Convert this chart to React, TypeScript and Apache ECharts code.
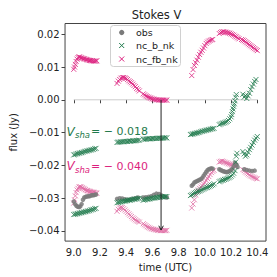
import React, { useEffect, useRef } from "react";
import * as echarts from "echarts";

// ---------- data ----------
const xTicks = [9.0, 9.2, 9.4, 9.6, 9.8, 10.0, 10.2, 10.4];
const yTicks = [-0.04, -0.03, -0.02, -0.01, 0.0, 0.01, 0.02];

const obsTime = [
  9.0, 9.01, 9.02, 9.03, 9.04, 9.05, 9.06, 9.07, 9.08, 9.09, 9.1, 9.11, 9.12, 9.13, 9.14, 9.15, 9.16, 9.17,
  9.33, 9.35, 9.37, 9.39, 9.41, 9.43, 9.45, 9.47, 9.49, 9.53, 9.55, 9.57, 9.59, 9.61, 9.63, 9.65, 9.67, 9.69, 9.71,
  9.9, 9.91, 9.92, 9.93, 9.94, 9.95, 9.96, 9.97, 9.98, 9.99, 10.0, 10.01, 10.02, 10.03, 10.04, 10.05, 10.06,
  10.11, 10.12, 10.13, 10.14, 10.15, 10.16, 10.17, 10.18, 10.19, 10.2, 10.21, 10.22, 10.23, 10.24, 10.25,
  10.3, 10.32, 10.34, 10.36, 10.38,
];
const obsFlux = [
  -0.031, -0.0318, -0.0323, -0.0326, -0.0327, -0.0325, -0.0318, -0.0305, -0.0298, -0.0296, -0.0295, -0.0294, -0.0294, -0.0292, -0.0291, -0.0291, -0.029, -0.0289,
  -0.0302, -0.03, -0.0301, -0.0303, -0.0305, -0.0304, -0.0302, -0.03, -0.0298, -0.0298, -0.0297, -0.0296, -0.0294, -0.029, -0.0286, -0.0287, -0.0292, -0.0296, -0.0298,
  -0.0262, -0.0258, -0.0252, -0.025, -0.0248, -0.0246, -0.0244, -0.0242, -0.0238, -0.0232, -0.0226, -0.022, -0.0215, -0.0212, -0.021, -0.0209, -0.021,
  -0.0212, -0.0214, -0.0216, -0.0218, -0.0219, -0.022, -0.022, -0.0219, -0.0217, -0.0214, -0.021, -0.0203, -0.0192, -0.0198, -0.0205,
  -0.0212, -0.0214, -0.0216, -0.0217, -0.0216,
];

// nc_b_nk (upper branch)
const ncbUpperTime = [
  9.0, 9.01, 9.02, 9.03, 9.04, 9.05, 9.06, 9.07, 9.08, 9.09, 9.1, 9.11, 9.12, 9.13, 9.14, 9.15, 9.16, 9.17,
  9.33, 9.34, 9.35, 9.36, 9.37, 9.38, 9.39, 9.4, 9.41, 9.42, 9.43, 9.44, 9.45, 9.46, 9.47, 9.48, 9.49, 9.5,
  9.53, 9.54, 9.55, 9.56, 9.57, 9.58, 9.59, 9.6, 9.61, 9.62, 9.63, 9.64, 9.65, 9.66, 9.67, 9.68, 9.69, 9.7, 9.71,
  9.89, 9.9, 9.91, 9.92, 9.93, 9.94, 9.95, 9.96, 9.97, 9.98, 9.99, 10.0, 10.01, 10.02, 10.03, 10.04, 10.05, 10.06, 10.07,
  10.11, 10.12, 10.13, 10.14, 10.15, 10.16, 10.17, 10.18, 10.19, 10.2, 10.205, 10.21, 10.215, 10.22, 10.225, 10.23, 10.235, 10.24,
  10.29, 10.3, 10.31, 10.32, 10.33, 10.34, 10.35, 10.36, 10.37, 10.38, 10.39,
];
const ncbUpperFlux = [
  -0.0168, -0.0167, -0.0165, -0.0164, -0.0163, -0.0162, -0.0161, -0.016, -0.0158, -0.0157, -0.0156, -0.0155, -0.0154, -0.0153, -0.0152, -0.0151, -0.0149, -0.0148,
  -0.013, -0.0129, -0.0129, -0.0128, -0.0128, -0.0128, -0.0127, -0.0127, -0.0127, -0.0126, -0.0126, -0.0126, -0.0125, -0.0125, -0.0125, -0.0124, -0.0124, -0.0123,
  -0.012, -0.012, -0.012, -0.0119, -0.0119, -0.0119, -0.0119, -0.0118, -0.0118, -0.0118, -0.0118, -0.0117, -0.0117, -0.0117, -0.0117, -0.0117, -0.0116, -0.0116, -0.0116,
  -0.0106, -0.0105, -0.0104, -0.0103, -0.0102, -0.0101, -0.01, -0.0099, -0.0097, -0.0096, -0.0095, -0.0094, -0.0093, -0.0092, -0.0091, -0.009, -0.0089, -0.0088, -0.0087,
  -0.0076, -0.0074, -0.0072, -0.0071, -0.007, -0.0068, -0.0066, -0.0063, -0.0058, -0.0052, -0.0045, -0.0036, -0.0028, -0.002, -0.0012, -0.0003, 0.0008, 0.0016,
  0.0017, 0.0008, 0.0013, 0.0004, 0.0012, 0.002, 0.0031, 0.004, 0.0048, 0.0056, 0.0062,
];

// nc_b_nk (lower branch)
const ncbLowerTime = [
  9.0, 9.01, 9.02, 9.03, 9.04, 9.05, 9.06, 9.07, 9.08, 9.09, 9.1, 9.11, 9.12, 9.13, 9.14, 9.15, 9.16, 9.17,
  9.33, 9.34, 9.35, 9.36, 9.37, 9.38, 9.39, 9.4, 9.41, 9.42, 9.43, 9.44, 9.45, 9.46, 9.47, 9.48, 9.49, 9.5,
  9.53, 9.54, 9.55, 9.56, 9.57, 9.58, 9.59, 9.6, 9.61, 9.62, 9.63, 9.64, 9.65, 9.66, 9.67, 9.68, 9.69, 9.7, 9.71,
  9.89, 9.9, 9.91, 9.92, 9.93, 9.94, 9.95, 9.96, 9.97, 9.98, 9.99, 10.0, 10.01, 10.02, 10.03, 10.04, 10.05, 10.06, 10.07,
  10.11, 10.12, 10.13, 10.14, 10.15, 10.16, 10.17, 10.18, 10.19, 10.2, 10.21, 10.22, 10.23, 10.235, 10.24, 10.245,
  10.29, 10.3, 10.31, 10.32, 10.33, 10.34, 10.35, 10.36, 10.37, 10.38, 10.39, 10.4,
];
const ncbLowerFlux = [
  -0.035, -0.0349, -0.0348, -0.0347, -0.0346, -0.0345, -0.0344, -0.0343, -0.0342, -0.0341, -0.034, -0.0339, -0.0338, -0.0336, -0.0335, -0.0334, -0.0332, -0.0331,
  -0.0314, -0.0313, -0.0312, -0.0311, -0.031, -0.0309, -0.0309, -0.0308, -0.0307, -0.0306, -0.0306, -0.0305, -0.0304, -0.0303, -0.0303, -0.0302, -0.0301, -0.03,
  -0.0306, -0.0305, -0.0304, -0.0303, -0.0303, -0.0302, -0.0301, -0.03, -0.03, -0.0299, -0.0298, -0.0298, -0.0297, -0.0297, -0.0296, -0.0296, -0.0295, -0.0295, -0.0295,
  -0.0292, -0.029, -0.0288, -0.0285, -0.0283, -0.0281, -0.0279, -0.0278, -0.0276, -0.0274, -0.0272, -0.027, -0.0268, -0.0267, -0.0265, -0.0263, -0.0261, -0.0259, -0.0256,
  -0.025, -0.0248, -0.0246, -0.0245, -0.0243, -0.0242, -0.024, -0.0238, -0.0236, -0.0233, -0.0229, -0.0224, -0.0216, -0.019, -0.0172, -0.0163,
  -0.0158, -0.0165, -0.0172, -0.0168, -0.016, -0.0152, -0.0145, -0.0138, -0.013, -0.0123, -0.0117, -0.0112,
];

// nc_fb_nk (upper branch)
const ncfbUpperTime = [
  9.0, 9.006, 9.012, 9.018, 9.025, 9.032, 9.04, 9.048, 9.056, 9.064, 9.072, 9.08, 9.088, 9.096, 9.104, 9.112, 9.12, 9.128, 9.136, 9.144, 9.152, 9.16, 9.168, 9.176,
  9.33, 9.34, 9.35, 9.36, 9.37, 9.38, 9.39, 9.4, 9.41, 9.42, 9.43, 9.44, 9.45, 9.46, 9.47, 9.48, 9.49, 9.5,
  9.53, 9.54, 9.55, 9.56, 9.57, 9.58, 9.59, 9.6, 9.61, 9.62, 9.63, 9.64, 9.65, 9.66, 9.67, 9.68, 9.69, 9.7, 9.71,
  9.9, 9.91, 9.92, 9.93, 9.94, 9.95, 9.96, 9.97, 9.98, 9.99, 10.0, 10.01, 10.02, 10.03, 10.04, 10.05, 10.06,
  10.11, 10.12, 10.13, 10.14, 10.15, 10.16, 10.17, 10.18, 10.19, 10.2, 10.21, 10.22, 10.23, 10.24, 10.25, 10.26,
  10.28, 10.29, 10.3, 10.31, 10.32, 10.33, 10.34, 10.35, 10.36, 10.37, 10.38, 10.39, 10.4,
];
const ncfbUpperFlux = [
  0.0093, 0.01, 0.0108, 0.0117, 0.0124, 0.0129, 0.0131, 0.013, 0.0128, 0.0127, 0.0126, 0.0125, 0.0124, 0.0123, 0.0122, 0.0121, 0.012, 0.012, 0.0119, 0.0119, 0.0118, 0.0118, 0.0118, 0.0119,
  0.005, 0.0057, 0.0062, 0.0066, 0.0068, 0.0068, 0.0067, 0.0065, 0.0062, 0.0058, 0.0055, 0.0052, 0.0048, 0.0044, 0.004, 0.0035, 0.0031, 0.0027,
  0.0018, 0.0015, 0.0012, 0.001, 0.0008, 0.0006, 0.0005, 0.0003, 0.0002, 0.0001, 0.0, 0.0, -0.0001, -0.0001, -0.0001, -0.0001, -0.0001, -0.0001, -0.0001,
  0.0074, 0.0092, 0.0105, 0.0113, 0.0121, 0.013, 0.0138, 0.0145, 0.0151, 0.0158, 0.0165, 0.0172, 0.0176, 0.0179, 0.0181, 0.0183, 0.0184,
  0.0202, 0.0205, 0.0207, 0.0208, 0.0207, 0.0206, 0.0205, 0.0204, 0.0203, 0.0201, 0.0199, 0.0197, 0.0194, 0.0192, 0.0189, 0.0186,
  0.0184, 0.0182, 0.018, 0.0177, 0.0174, 0.0171, 0.0168, 0.0165, 0.0162, 0.0159, 0.0156, 0.0153, 0.015,
];

// nc_fb_nk (lower branch)
const ncfbLowerTime = [
  9.0, 9.006, 9.012, 9.018, 9.025, 9.032, 9.04, 9.048, 9.056, 9.064, 9.072, 9.08, 9.088, 9.096, 9.104, 9.112, 9.12, 9.128, 9.136, 9.144, 9.152, 9.16, 9.168, 9.176,
  9.33, 9.34, 9.35, 9.36, 9.37, 9.38, 9.39, 9.4, 9.41, 9.42, 9.43, 9.44, 9.45, 9.46, 9.47, 9.48, 9.49, 9.5,
  9.53, 9.54, 9.55, 9.56, 9.57, 9.58, 9.59, 9.6, 9.61, 9.62, 9.63, 9.64, 9.65, 9.66, 9.67, 9.68, 9.69, 9.7, 9.71,
  9.9, 9.91, 9.92, 9.93, 9.94, 9.95, 9.96, 9.97, 9.98, 9.99, 10.0, 10.01, 10.02, 10.03, 10.04, 10.05, 10.06, 10.07,
  10.11, 10.12, 10.13, 10.14, 10.15, 10.16, 10.17, 10.18, 10.19, 10.2, 10.21, 10.22, 10.23, 10.24,
  10.29, 10.3, 10.31, 10.32, 10.33, 10.34, 10.35, 10.36, 10.37, 10.38, 10.39, 10.4,
];
const ncfbLowerFlux = [
  -0.0315, -0.0305, -0.0293, -0.0283, -0.0275, -0.027, -0.0266, -0.0265, -0.0266, -0.0268, -0.027, -0.0272, -0.0274, -0.0276, -0.0277, -0.0278, -0.0279, -0.028, -0.0281, -0.0282, -0.0282, -0.0283, -0.0284, -0.0285,
  -0.034, -0.0334, -0.033, -0.0328, -0.0329, -0.0332, -0.0336, -0.034, -0.0344, -0.0348, -0.0352, -0.0356, -0.036, -0.0363, -0.0366, -0.0369, -0.0371, -0.0373,
  -0.0378, -0.0381, -0.0384, -0.0387, -0.0389, -0.0391, -0.0393, -0.0394, -0.0395, -0.0396, -0.0397, -0.0398, -0.0398, -0.0399, -0.0399, -0.0399, -0.0399, -0.0399, -0.0398,
  -0.033, -0.0318, -0.0305, -0.029, -0.028, -0.0275, -0.027, -0.0266, -0.0262, -0.0257, -0.0252, -0.0246, -0.024, -0.0234, -0.0228, -0.0222, -0.0218, -0.0215,
  -0.019, -0.0188, -0.0187, -0.0188, -0.019, -0.0192, -0.0193, -0.0195, -0.0196, -0.0198, -0.0199, -0.02, -0.0201, -0.0202,
  -0.0213, -0.0216, -0.022, -0.0223, -0.0226, -0.0229, -0.0232, -0.0234, -0.0236, -0.0238, -0.024, -0.0241,
];

const zeroLine = [[9.0, 0], [10.4, 0]];
const arrowTime = 9.666;
const arrowFrom = 0.0;
const arrowTo = -0.0397;
const vShaB = "−0.018";
const vShaFb = "−0.040";

// ---------- styles ----------
const GREEN = "#1f7a4c";
const MAGENTA = "#dc1f7e";
const PINK = "#e06aa2";
const GRAY = "#7a7a7a";
const FONT = "DejaVu Sans";
const CROSS = "path://M0,0L10,10M10,0L0,10";

const zip = (a: number[], b: number[]) => a.map((t, i) => [t, b[i]]);

export default function App() {
  const ref = useRef<HTMLDivElement>(null);
  useEffect(() => {
    if (!ref.current) return;
    const chart = echarts.init(ref.current, null, { renderer: "svg" });
    const crossSeries = (name: string, data: number[][], color: string, z: number) => ({
      type: "scatter",
      name,
      data,
      symbol: CROSS,
      symbolSize: 5,
      z,
      itemStyle: { color: "transparent", borderColor: color, borderWidth: 1 },
      silent: true,
    });
    const annot = (y: number, color: string, num: string) => [
      { type: "text", x: 66.5, y, style: { text: "V", fontFamily: FONT, fontStyle: "italic", fontSize: 12, fill: color, verticalAlign: "middle" } },
      { type: "text", x: 75, y: y + 3.5, style: { text: "sha", fontFamily: FONT, fontStyle: "italic", fontSize: 8.5, fill: color, verticalAlign: "middle" } },
      { type: "text", x: 91, y, style: { text: "= " + num.replace("−", "− "), fontFamily: FONT, fontSize: 11, fill: color, verticalAlign: "middle" } },
    ];
    const xMark = (cx: number, cy: number, color: string) => [
      { type: "line", shape: { x1: cx - 2.5, y1: cy - 2.5, x2: cx + 2.5, y2: cy + 2.5 }, style: { stroke: color, lineWidth: 1 }, z: 101 },
      { type: "line", shape: { x1: cx - 2.5, y1: cy + 2.5, x2: cx + 2.5, y2: cy - 2.5 }, style: { stroke: color, lineWidth: 1 }, z: 101 },
    ];
    chart.setOption({
      animation: false,
      backgroundColor: "#ffffff",
      grid: { left: 47, top: 23.5, width: 219, height: 219, show: true, borderColor: "#444", borderWidth: 1, backgroundColor: "transparent" },
      xAxis: {
        type: "value",
        min: 8.9335,
        max: 10.4665,
        name: "time (UTC)",
        nameLocation: "middle",
        nameGap: 13,
        nameTextStyle: { fontFamily: FONT, fontSize: 10, color: "#222" },
        axisLine: { show: false },
        splitLine: { show: false },
        axisTick: { show: true, inside: false, length: 3.5, lineStyle: { color: "#444" }, customValues: xTicks },
        axisLabel: { customValues: xTicks, formatter: (v: number) => v.toFixed(1), fontFamily: FONT, fontSize: 10, color: "#222", margin: 6 },
      },
      yAxis: {
        type: "value",
        min: -0.04309,
        max: 0.02327,
        name: "flux (Jy)",
        nameLocation: "middle",
        nameGap: 38,
        nameRotate: 90,
        nameTextStyle: { fontFamily: FONT, fontSize: 10, color: "#222" },
        axisLine: { show: false },
        splitLine: { show: false },
        axisTick: { show: true, inside: false, length: 3.5, lineStyle: { color: "#444" }, customValues: yTicks },
        axisLabel: {
          customValues: yTicks,
          formatter: (v: number) => (v < -1e-9 ? "−" : "") + Math.abs(v).toFixed(2),
          fontFamily: FONT,
          fontSize: 10,
          color: "#222",
          margin: 5.5,
        },
      },
      series: [
        { type: "line", data: zeroLine, symbol: "none", lineStyle: { color: "#cccccc", width: 1 }, z: 1, silent: true },
        crossSeries("nc_fb_nk", zip(ncfbLowerTime, ncfbLowerFlux), PINK, 2),
        crossSeries("nc_fb_nk", zip(ncfbUpperTime, ncfbUpperFlux), MAGENTA, 2),
        {
          type: "scatter",
          name: "obs",
          data: zip(obsTime, obsFlux),
          symbol: "circle",
          symbolSize: 4.5,
          z: 3,
          itemStyle: { color: GRAY, opacity: 0.85 },
          silent: true,
        },
        crossSeries("nc_b_nk", zip(ncbLowerTime, ncbLowerFlux), GREEN, 4),
        crossSeries("nc_b_nk", zip(ncbUpperTime, ncbUpperFlux), GREEN, 4),
        {
          type: "line",
          data: [[arrowTime, arrowFrom], [arrowTime, arrowTo]],
          symbol: "none",
          lineStyle: { color: "#222", width: 1 },
          z: 6,
          silent: true,
        },
        {
          type: "line",
          data: [[arrowTime - 0.0175, arrowTo + 0.0013], [arrowTime, arrowTo], [arrowTime + 0.0175, arrowTo + 0.0013]],
          symbol: "none",
          lineStyle: { color: "#222", width: 1 },
          z: 6,
          silent: true,
        },
      ],
      graphic: [
        { type: "text", x: 156.5, y: 15.3, style: { text: "Stokes V", fontFamily: FONT, fontSize: 11.5, fill: "#222", align: "center", verticalAlign: "middle" } },
        ...annot(131.7, GREEN, vShaB),
        ...annot(166.3, MAGENTA, vShaFb),
        {
          type: "rect",
          shape: { x: 110.5, y: 25.5, width: 70, height: 41, r: 3 },
          style: { fill: "rgba(255,255,255,0.85)", stroke: "#d0d0d0", lineWidth: 1 },
          z: 100,
        },
        { type: "circle", shape: { cx: 121.7, cy: 32.5, r: 2.6 }, style: { fill: GRAY }, z: 101 },
        ...xMark(121.7, 45.5, GREEN),
        ...xMark(121.7, 59, MAGENTA),
        { type: "text", x: 136, y: 32.5, z: 101, style: { text: "obs", fontFamily: FONT, fontSize: 9.5, fill: "#222", verticalAlign: "middle" } },
        { type: "text", x: 136, y: 45.5, z: 101, style: { text: "nc_b_nk", fontFamily: FONT, fontSize: 9.5, fill: "#222", verticalAlign: "middle" } },
        { type: "text", x: 136, y: 59, z: 101, style: { text: "nc_fb_nk", fontFamily: FONT, fontSize: 9.5, fill: "#222", verticalAlign: "middle" } },
      ],
    });
    return () => chart.dispose();
  }, []);
  return <div ref={ref} style={{ position: "fixed", left: 0, top: 0, width: 277, height: 277, background: "#fff" }} />;
}
